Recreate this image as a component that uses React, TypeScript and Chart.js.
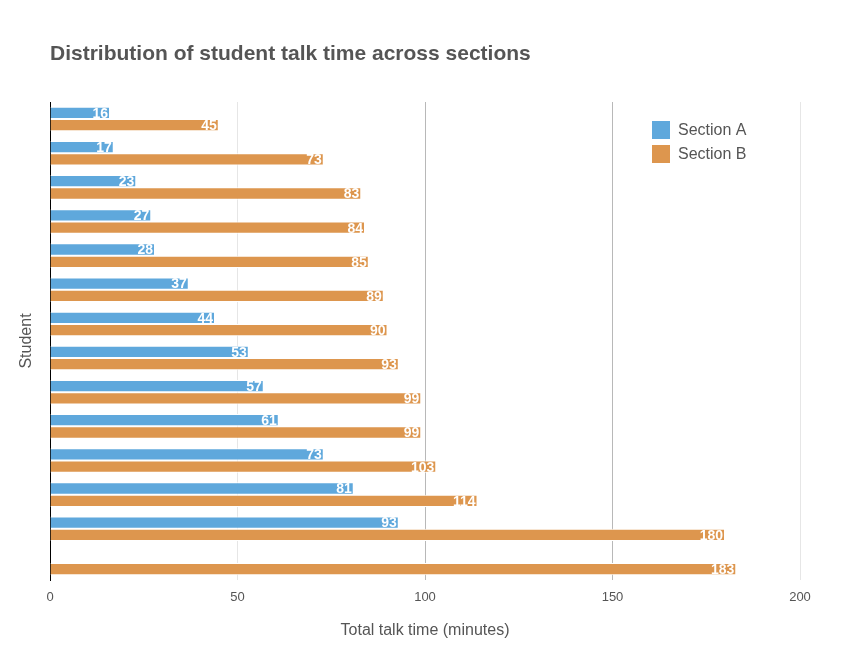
import React, { useEffect, useRef } from "react";
import { Chart, registerables } from "chart.js";
Chart.register(...registerables);

const categories = ["1","2","3","4","5","6","7","8","9","10","11","12","13","14"];
const sectionA = [16,17,23,27,28,37,44,53,57,61,73,81,93,null];
const sectionB = [45,73,83,84,85,89,90,93,99,99,103,114,180,183];
const xTicks = [0,50,100,150,200];
const colorA = "#5fa8dc";
const colorB = "#dd964e";
const FONT = '"Liberation Sans", Arial, sans-serif';

export default function App() {
  const ref = useRef<HTMLCanvasElement>(null);
  useEffect(() => {
    document.body.style.margin = "0";
    const plugin = {
      id: "custom",
      afterDraw(chart: any) {
        const ctx = chart.ctx;
        const ca = chart.chartArea;
        const xs = chart.scales.x;
        ctx.save();
        // title
        ctx.fillStyle = "#555";
        ctx.font = `bold 21px ${FONT}`;
        ctx.textAlign = "left";
        ctx.textBaseline = "alphabetic";
        ctx.fillText("Distribution of student talk time across sections", 50, 60);
        // x ticks
        ctx.font = `13px ${FONT}`;
        ctx.textAlign = "center";
        ctx.textBaseline = "middle";
        xTicks.forEach(t => ctx.fillText(String(t), xs.getPixelForValue(t), 597));
        ctx.font = `16px ${FONT}`;
        ctx.fillText("Total talk time (minutes)", (ca.left + ca.right) / 2, 631);
        ctx.save();
        ctx.translate(27, (ca.top + ca.bottom) / 2);
        ctx.rotate(-Math.PI / 2);
        ctx.fillText("Student", 0, 0);
        ctx.restore();
        // legend
        ctx.textAlign = "left";
        [["Section A", colorA, 130], ["Section B", colorB, 154]].forEach(([l, c, y]: any) => {
          ctx.fillStyle = c;
          ctx.fillRect(652, y - 9, 18, 18);
          ctx.fillStyle = "#555";
          ctx.fillText(l, 678, y + 1);
        });
        // value labels
        ctx.font = `bold 14px ${FONT}`;
        ctx.fillStyle = "#fff";
        ctx.textAlign = "right";
        chart.data.datasets.forEach((ds: any, i: number) => {
          const meta = chart.getDatasetMeta(i);
          meta.data.forEach((el: any, j: number) => {
            const v = ds.data[j];
            if (v == null) return;
            ctx.fillText(String(v), el.x - 2, el.y + 1);
          });
        });
        ctx.restore();
      },
    };
    const chart = new Chart(ref.current!, {
      type: "bar",
      data: {
        labels: categories,
        datasets: [
          { label: "Section A", data: sectionA, backgroundColor: colorA, borderColor: "#fff", borderWidth: 1 },
          { label: "Section B", data: sectionB, backgroundColor: colorB, borderColor: "#fff", borderWidth: 1 },
        ],
      },
      options: {
        indexAxis: "y",
        animation: false,
        responsive: false,
        datasets: { bar: { categoryPercentage: 0.72, barPercentage: 1 } },
        layout: { padding: { left: 50, right: 52, top: 102, bottom: 79 } },
        plugins: { legend: { display: false }, tooltip: { enabled: false } },
        scales: {
          x: {
            min: 0, max: 200,
            ticks: { display: false, stepSize: 50 },
            afterFit: (s: any) => { s.height = 0; },
            grid: {
              color: (c: any) => (c.tick && (c.tick.value === 100 || c.tick.value === 150) ? "#b8b8b8" : "#e6e6e6"),
              tickLength: 0,
              drawTicks: false,
            },
            border: { display: false },
          },
          y: {
            ticks: { display: false },
            afterFit: (s: any) => { s.width = 0; },
            grid: { display: false, drawTicks: false },
            border: { display: true, color: "#000", width: 1 },
          },
        },
      } as any,
      plugins: [plugin],
    });
    return () => chart.destroy();
  }, []);
  return <canvas ref={ref} width={852} height={659} style={{ display: "block" }} />;
}
